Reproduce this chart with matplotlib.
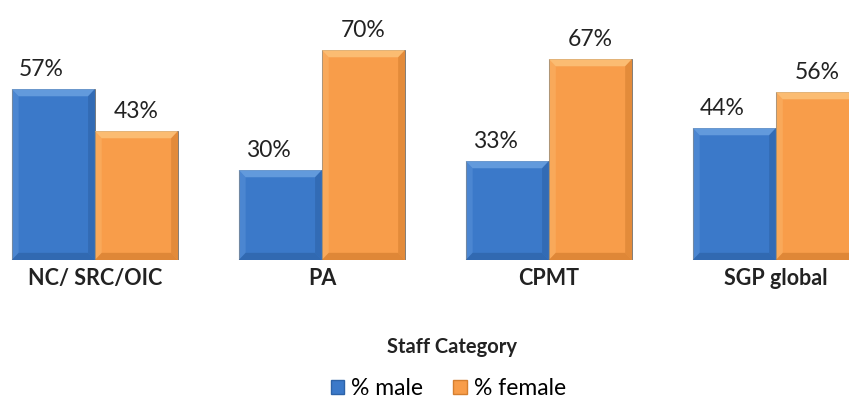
import numpy as np
import matplotlib.pyplot as plt
from matplotlib.patches import Polygon, Patch

categories = ['NC/ SRC/OIC', 'PA', 'CPMT', 'SGP global']
male = [57, 30, 33, 44]
female = [43, 70, 67, 56]
series_names = ['% male', '% female']

plt.rcParams['font.family'] = ['Lato', 'DejaVu Sans']

fig = plt.figure(figsize=(8.49, 4.08), dpi=100)
ax = fig.add_axes([0, 0.3627, 1, 0.6373])

x = np.arange(len(categories))
w = 0.366
colors = {'male': ('#3b79c9', '#6aa0e0', '#2d63a8'),
          'female': ('#f89d4a', '#fcc27a', '#d57f30')}


def bevel(ax, x0, h, base, light, dark):
    # flat face plus four bevel strips
    bars = ax.bar(x0, h, w, align='edge', color=base, edgecolor='#707070', linewidth=0.6, zorder=2)
    bx, by = 0.03, 2.4
    x1 = x0 + w
    top = [(x0, h), (x1, h), (x1 - bx, h - by), (x0 + bx, h - by)]
    left = [(x0, 0), (x0, h), (x0 + bx, h - by), (x0 + bx, by)]
    right = [(x1, 0), (x1, h), (x1 - bx, h - by), (x1 - bx, by)]
    bottom = [(x0, 0), (x1, 0), (x1 - bx, by), (x0 + bx, by)]
    ax.add_patch(Polygon(top, closed=True, color=light, alpha=0.85, lw=0, zorder=3))
    ax.add_patch(Polygon(left, closed=True, color=light, alpha=0.35, lw=0, zorder=3))
    ax.add_patch(Polygon(right, closed=True, color=dark, alpha=0.6, lw=0, zorder=3))
    ax.add_patch(Polygon(bottom, closed=True, color=dark, alpha=0.7, lw=0, zorder=3))
    return bars


for i in range(len(categories)):
    bevel(ax, x[i] - w, male[i], *colors['male'])
    bevel(ax, x[i], female[i], *colors['female'])
    ax.annotate(f'{male[i]}%', (x[i] - w / 2, male[i]), xytext=(-12, 20),
                textcoords='offset pixels', ha='center', va='center', fontsize=16.5, color='#222222')
    ax.annotate(f'{female[i]}%', (x[i] + w / 2, female[i]), xytext=(0, 20),
                textcoords='offset pixels', ha='center', va='center', fontsize=16.5, color='#222222')
    ax.text(x[i], -6, categories[i], ha='center', va='center', fontsize=15.5,
            fontweight='bold', color='#222222')

ax.set_xlim(-0.418, 3.322)
ax.set_ylim(0, 86.7)
ax.axis('off')

fig.text(0.532, 0.149, 'Staff Category', ha='center', va='center', fontsize=14.5,
         fontweight='bold', color='#222222')

handles = [Patch(facecolor=colors['male'][0], edgecolor=colors['male'][2]),
           Patch(facecolor=colors['female'][0], edgecolor=colors['female'][2])]
fig.legend(handles, series_names, loc='center', bbox_to_anchor=(0.528, 0.048), ncol=2,
           frameon=False, fontsize=16.5, handlelength=0.6, handleheight=0.6,
           handletextpad=0.3, columnspacing=1.3)

fig.savefig('out.png', dpi=100)
